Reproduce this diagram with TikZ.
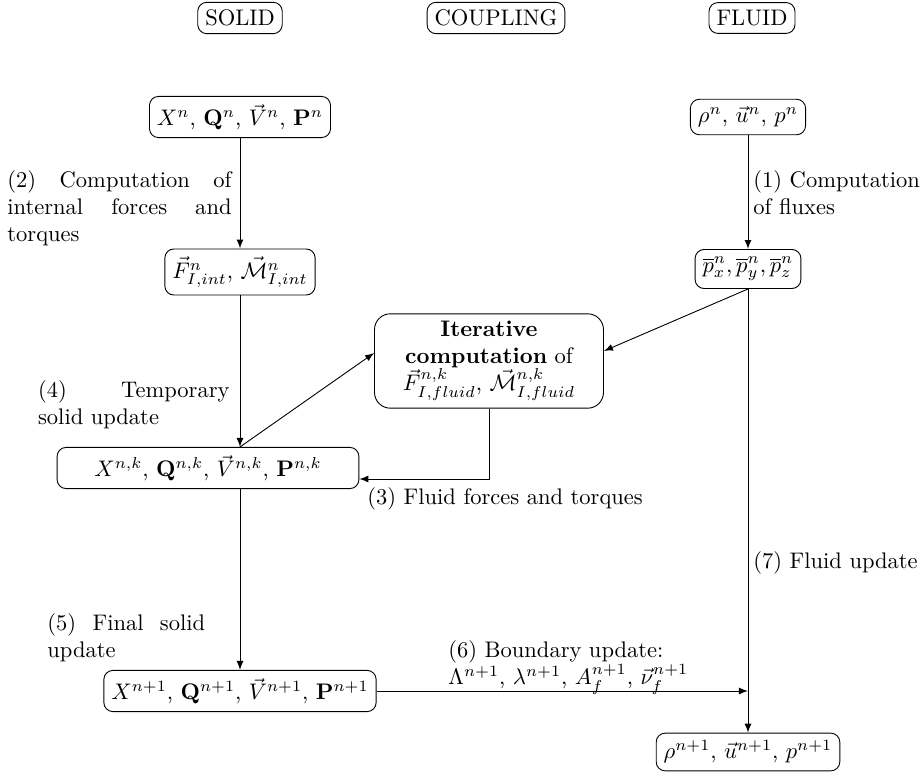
\documentclass[tikz,border=0pt]{standalone}
\usepackage{amsmath,amssymb}
\usetikzlibrary{calc,arrows}
\begin{document}
\begin{tikzpicture}[x=0.444pt,y=-0.444pt,
  box/.style={draw,rounded corners=4pt,inner sep=3.33pt},
  lbl/.style={inner sep=0pt},
  arr/.style={-latex}]
\useasboundingbox (0,0) rectangle (922,774);
% headers
\node[box] (hs) at (240,18) {SOLID};
\node[box] (hc) at (496,18) {COUPLING};
\node[box] (hf) at (752,18) {FLUID};
% solid column
\node[box] (Xn) at (240,117) {$X^n$, $\mathbf{Q}^n$, $\vec{V}^n$, $\mathbf{P}^n$};
\node[box] (Fint) at (240,272) {$\vec{F}^n_{I,int}$, $\vec{\mathcal{M}}^n_{I,int}$};
\node[box,minimum width=134pt,minimum height=18pt] (Xnk) at (208,468) {$X^{n,k}$, $\mathbf{Q}^{n,k}$, $\vec{V}^{n,k}$, $\mathbf{P}^{n,k}$};
\node[box] (Xn1) at (240,691) {$X^{n+1}$, $\mathbf{Q}^{n+1}$, $\vec{V}^{n+1}$, $\mathbf{P}^{n+1}$};
% coupling
\node[box,rounded corners=7pt,text width=95pt,align=center] (Iter) at (489,361) {\textbf{Iterative}\\ \textbf{computation} of\\ $\vec{F}^{n,k}_{I,fluid}$, $\vec{\mathcal{M}}^{n,k}_{I,fluid}$};
% fluid column
\node[box] (rho) at (748,117) {$\rho^n$, $\vec{u}^n$, $p^n$};
\node[box] (pbar) at (748,269) {$\overline{p}^n_x,\overline{p}^n_y,\overline{p}^n_z$};
\node[box] (rho1) at (748,752) {$\rho^{n+1}$, $\vec{u}^{n+1}$, $p^{n+1}$};
% coordinates
\coordinate (J) at (pbar.south |- Xn1.east);
\coordinate (Xtop) at (Fint.south |- Xnk.north);
\coordinate (Xbot) at (Fint.south |- Xnk.south);
\coordinate (Xin) at ($(Xnk.east)+(0,11)$);
\coordinate (Iw) at ($(Iter.west)+(0,-8)$);
\coordinate (Ie) at ($(Iter.east)+(0,-10)$);
% connectors
\draw[arr] (Xn) -- (Fint);
\draw[arr] (Fint) -- (Xtop);
\draw[arr] (Xtop) -- (Iw);
\draw[arr] (pbar.south) -- (Ie);
\draw[arr] (Iter.south) |- (Xin);
\draw[arr] (Xbot) -- (Xn1);
\draw[arr] (Xn1) -- (J);
\draw[arr] (rho) -- (pbar);
\draw[arr] (pbar) -- (rho1);
% labels
\node[lbl,anchor=north east,text width=99.5pt,align=justify] (l2) at (232,170) {(2) Computation of internal forces and torques};
\node[lbl,anchor=north west,text width=78pt,align=left] (l1) at (753,170) {(1) Computation of fluxes};
\node[lbl,anchor=north east,text width=85pt,align=justify] (l4) at (230,380) {(4) Temporary solid update};
\node[lbl,anchor=north west] (l3) at (367,487) {(3) Fluid forces and torques};
\node[lbl,anchor=north west,text width=70pt,align=justify] (l5) at (47,613) {(5) Final solid update};
\node[lbl,anchor=north west,align=left] (l6) at (448,640) {(6) Boundary update:\\ $\Lambda^{n+1}$, $\lambda^{n+1}$, $A_f^{n+1}$, $\vec{\nu}_f^{n+1}$};
\node[lbl,anchor=north west] (l7) at (753,551) {(7) Fluid update};
\end{tikzpicture}
\end{document}
